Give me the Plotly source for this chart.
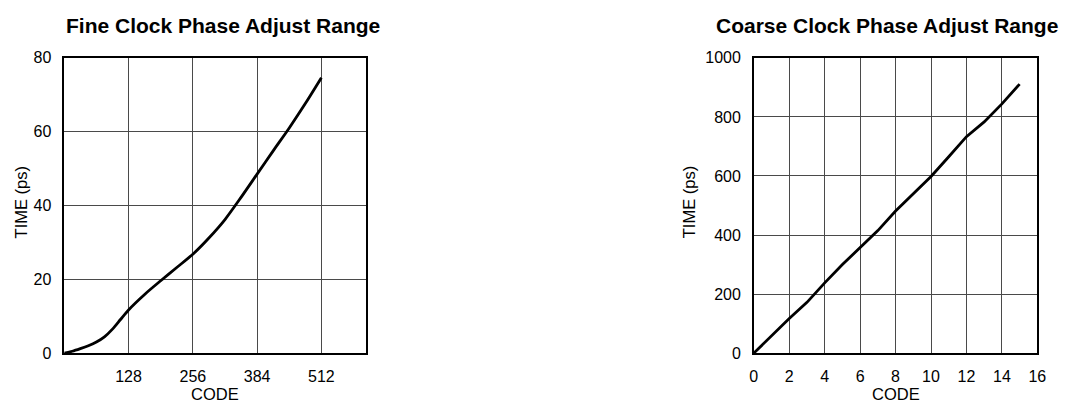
import plotly.graph_objects as go

# Fine clock phase adjust: delay (ps) versus fine code
fine_code = [0, 16, 32, 48, 64, 80, 96, 112, 128, 160, 192, 224, 256, 288, 320, 352, 384, 416, 448, 480, 512]
fine_time = [0, 0.5, 1.2, 2.0, 3.0, 4.4, 6.5, 9.1, 11.7, 15.9, 19.6, 23.2, 26.8, 31.2, 36.2, 42.2, 48.5, 54.8, 61.0, 67.6, 74.6]
fine_ticks = [128, 256, 384, 512]

# Coarse clock phase adjust: delay (ps) versus coarse code
coarse_code = list(range(16))
coarse_time = [0, 60, 117, 172, 238, 300, 357, 415, 481, 540, 598, 665, 733, 783, 844, 911]

W, H = 1074, 411
FONT = "Liberation Sans, Arial, sans-serif"

def px(x):
    return x / W

def py(y):
    return 1 - y / H

left_dom = [px(61), px(366)]
right_dom = [px(759), px(1046)]
y_dom = [py(360), py(52)]

fig = go.Figure()
line = dict(color="black", width=2.8)
fig.add_trace(go.Scatter(x=fine_code, y=fine_time, mode="lines", line=dict(shape="spline", smoothing=0.8, **line),
                         xaxis="x", yaxis="y", showlegend=False, hoverinfo="skip"))
fig.add_trace(go.Scatter(x=coarse_code, y=coarse_time, mode="lines", line=line,
                         xaxis="x2", yaxis="y2", showlegend=False, hoverinfo="skip"))

axis_common = dict(
    showline=True, linecolor="black", linewidth=1.5, mirror=True,
    showgrid=True, gridcolor="#4a4a4a", gridwidth=1,
    zeroline=False, ticks="", ticklabelstandoff=8,
    tickfont=dict(family=FONT, size=16, color="black"),
    fixedrange=True,
)

fig.update_layout(
    width=W, height=H,
    margin=dict(l=0, r=0, t=0, b=0),
    paper_bgcolor="white", plot_bgcolor="white",
    xaxis=dict(domain=left_dom, range=[0, 600], tickvals=fine_ticks, anchor="y", **axis_common),
    yaxis=dict(domain=y_dom, range=[0, 80], tickvals=[0, 20, 40, 60, 80], anchor="x", **axis_common),
    xaxis2=dict(domain=right_dom, range=[0, 16], tickvals=list(range(0, 17, 2)), anchor="y2", **axis_common),
    yaxis2=dict(domain=y_dom, range=[0, 1000], tickvals=list(range(0, 1001, 200)), anchor="x2", **axis_common),
)

title_font = dict(family=FONT, size=21, color="black")
label_font = dict(family=FONT, size=16.5, color="black")
ann = []
for title, cx, x_mid, y_lab_x in [
    ("Fine Clock Phase Adjust Range", 221.5, (61 + 366) / 2, 17),
    ("Coarse Clock Phase Adjust Range", 894, (759 + 1046) / 2, 693),
]:
    ann.append(dict(text="<b>%s</b>" % title, x=px(cx), y=py(18), xref="paper", yref="paper",
                    xanchor="center", yanchor="middle", showarrow=False, font=title_font))
    ann.append(dict(text="CODE", x=px(x_mid), y=py(403), xref="paper", yref="paper",
                    xanchor="center", yanchor="middle", showarrow=False, font=label_font))
    ann.append(dict(text="TIME (ps)", x=px(y_lab_x), y=py(203), xref="paper", yref="paper",
                    xanchor="center", yanchor="middle", showarrow=False, textangle=-90, font=label_font))
fig.update_layout(annotations=ann)

fig.write_html("out.html")
